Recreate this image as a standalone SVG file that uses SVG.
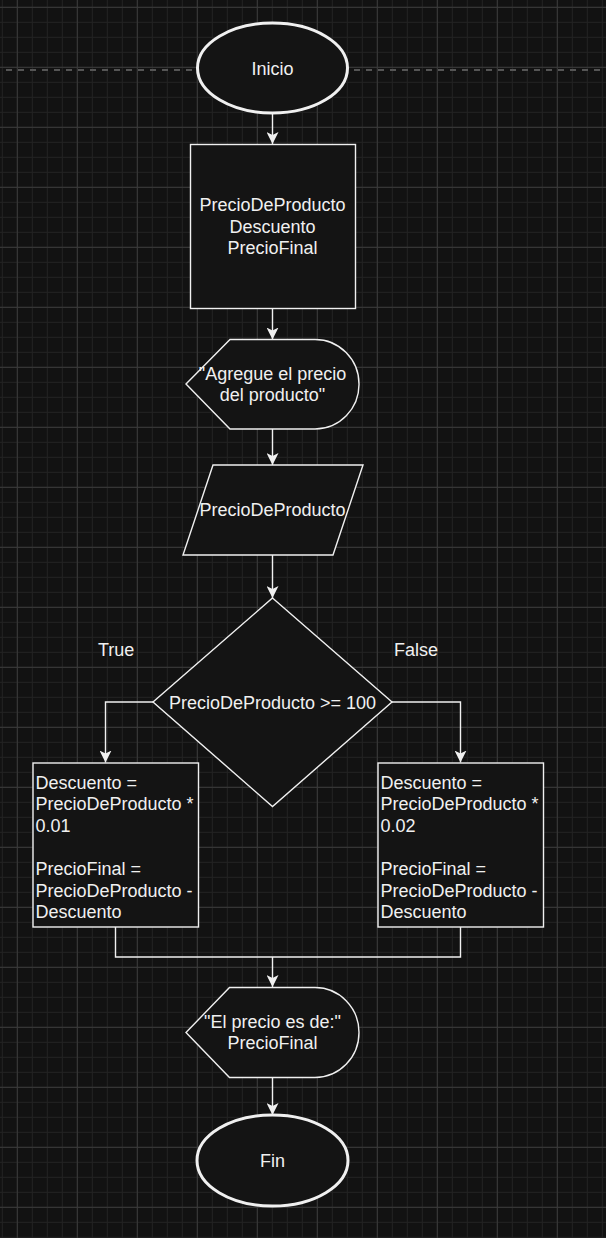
<svg xmlns="http://www.w3.org/2000/svg" width="606" height="1238" viewBox="0 0 606 1238">
  <defs>
    <pattern id="minor" width="15" height="15" patternUnits="userSpaceOnUse" x="1.8" y="6.8">
      <path d="M0,0.5 H15 M0.5,0 V15" fill="none" stroke="#232323" stroke-width="1"/>
    </pattern>
    <pattern id="major" width="60" height="60" patternUnits="userSpaceOnUse" x="16.8" y="6.8">
      <path d="M0,0.5 H60 M0.5,0 V60" fill="none" stroke="#3a3a3a" stroke-width="1"/>
    </pattern>
    <marker id="arrow" viewBox="0 0 12 12" markerWidth="12" markerHeight="12" refX="12" refY="6" orient="auto" markerUnits="userSpaceOnUse">
      <path d="M0,0 L12,6 L0,12 L3,6 Z" fill="#f0f0f0" stroke="none"/>
    </marker>
    <style>
      .shape { fill: #141414; stroke: #f0f0f0; stroke-width: 1.4; }
      .term { fill: #141414; stroke: #f0f0f0; stroke-width: 3; }
      .conn { fill: none; stroke: #f0f0f0; stroke-width: 1.4; }
      .arr { marker-end: url(#arrow); }
      text { font-family: "Liberation Sans", Arial, Helvetica, sans-serif; font-size: 18px; fill: #f0f0f0; }
      .c { text-anchor: middle; }
    </style>
  </defs>

  <rect x="0" y="0" width="606" height="1238" fill="#121212"/>
  <rect x="0" y="0" width="606" height="1238" fill="url(#minor)"/>
  <rect x="0" y="0" width="606" height="1238" fill="url(#major)"/>
  <line x1="6" y1="70" x2="606" y2="70" stroke="#555555" stroke-width="2" stroke-dasharray="6 6"/>

  <g id="connectors">
    <path class="conn arr" d="M272.5,113.5 V144"/>
    <path class="conn arr" d="M272.5,309 V339.5"/>
    <path class="conn arr" d="M272.5,429 V465"/>
    <path class="conn arr" d="M272.5,555 V598"/>
    <path class="conn arr" d="M153,702 H105.5 V762.5"/>
    <path class="conn arr" d="M392,702 H460.5 V762.5"/>
    <path class="conn" d="M115.5,927 V957 H460.5 V927"/>
    <path class="conn arr" d="M272.5,957 V987"/>
    <path class="conn arr" d="M272.5,1077 V1115"/>
  </g>

  <g id="inicio">
    <ellipse class="term" cx="272.5" cy="68" rx="75" ry="45"/>
    <text class="c" x="272.5" y="75">Inicio</text>
  </g>

  <g id="variables">
    <rect class="shape" x="190.5" y="144.5" width="165" height="164"/>
    <text class="c" x="272.5" y="211">PrecioDeProducto</text>
    <text class="c" x="272.5" y="233">Descuento</text>
    <text class="c" x="272.5" y="254">PrecioFinal</text>
  </g>

  <g id="display1">
    <path class="shape" d="M186,384 L230,339.5 L315,339.5 A44,44.5 0 0 1 359,384 A44,44.5 0 0 1 315,429 L230,429 Z"/>
    <text class="c" x="272.5" y="379.5">"Agregue el precio</text>
    <text class="c" x="272.5" y="401">del producto"</text>
  </g>

  <g id="input">
    <path class="shape" d="M213,465 L363,465 L333,555 L183,555 Z"/>
    <text class="c" x="272.5" y="515.5">PrecioDeProducto</text>
  </g>

  <g id="decision">
    <path class="shape" d="M272.5,598 L392,702 L272.5,806.5 L153,702 Z"/>
    <text class="c" x="272.5" y="708.5">PrecioDeProducto &gt;= 100</text>
  </g>

  <g id="label-true">
    <text x="98" y="655.5">True</text>
  </g>
  <g id="label-false">
    <text x="394" y="655.5">False</text>
  </g>

  <g id="calc-true">
    <rect class="shape" x="33" y="763" width="165.5" height="164"/>
    <text x="35.5" y="788.5">Descuento =</text>
    <text x="35.5" y="810">PrecioDeProducto *</text>
    <text x="35.5" y="832">0.01</text>
    <text x="35.5" y="875">PrecioFinal =</text>
    <text x="35.5" y="896.5">PrecioDeProducto -</text>
    <text x="35.5" y="918">Descuento</text>
  </g>

  <g id="calc-false">
    <rect class="shape" x="378" y="763" width="165.5" height="164"/>
    <text x="380.5" y="788.5">Descuento =</text>
    <text x="380.5" y="810">PrecioDeProducto *</text>
    <text x="380.5" y="832">0.02</text>
    <text x="380.5" y="875">PrecioFinal =</text>
    <text x="380.5" y="896.5">PrecioDeProducto -</text>
    <text x="380.5" y="918">Descuento</text>
  </g>

  <g id="display2">
    <path class="shape" d="M186,1032.5 L229.5,987.5 L315,987.5 A44,45 0 0 1 359,1032.5 A44,45 0 0 1 315,1077.5 L229.5,1077.5 Z"/>
    <text class="c" x="272.5" y="1027.5">"El precio es de:"</text>
    <text class="c" x="272.5" y="1049">PrecioFinal</text>
  </g>

  <g id="fin">
    <ellipse class="term" cx="272.5" cy="1160.5" rx="75.5" ry="45.5"/>
    <text class="c" x="272.5" y="1166.5">Fin</text>
  </g>
</svg>
